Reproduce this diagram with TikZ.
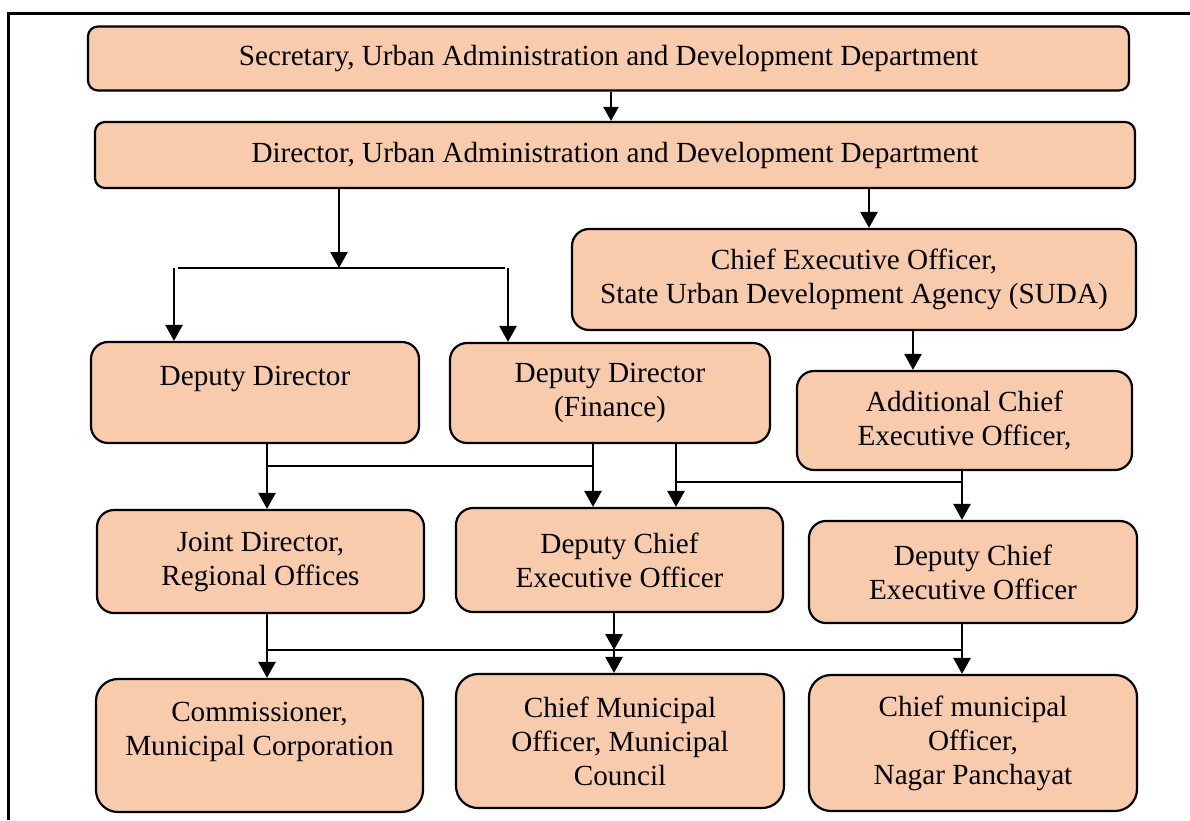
\documentclass[tikz,border=0pt]{standalone}
\usepackage{fontspec}
\setmainfont{Liberation Serif}
\usetikzlibrary{arrows.meta}

\definecolor{peach}{HTML}{F8CBAD}

\begin{document}
\begin{tikzpicture}[x=1pt,y=-1pt,
	box/.style = {draw, line width=2.2pt, fill=peach, rounded corners=17pt, align=center, inner sep=2pt, font=\fontsize{29.2}{34}\selectfont},
	arr/.style = {line width=2.6pt, -{Triangle[length=16pt,width=17pt]}},
	link/.style = {line width=2.4pt}]
	\useasboundingbox (0,0) rectangle (1190,820);
	\draw[line width=3pt] (8,820) -- (8,13) -- (1190,13);
	\begin{scope}[every node/.style={box}]
		\node[minimum width=1041pt, minimum height=64pt, rounded corners=10pt] (sec) at (608.5,58.5) {Secretary, Urban Administration and Development Department};
		\node[minimum width=1040pt, minimum height=66pt, rounded corners=10pt] (dir) at (615,155) {Director, Urban Administration and Development Department};
		\node[minimum width=564pt, minimum height=101pt] (ceo) at (854,279.5) {Chief Executive Officer,\\State Urban Development Agency (SUDA)};
		\node[minimum width=328pt, minimum height=101pt] (dd) at (255,392.5) {Deputy Director\\ \mbox{}};
		\node[minimum width=320pt, minimum height=100pt] (ddf) at (610,393) {Deputy Director\\(Finance)};
		\node[minimum width=335pt, minimum height=99pt] (aceo) at (964.5,420.5) {Additional Chief\\Executive Officer,};
		\node[minimum width=327pt, minimum height=103pt] (jd) at (260.5,561.5) {Joint Director,\\Regional Offices};
		\node[minimum width=327pt, minimum height=104pt] (dceo) at (619.5,560) {Deputy Chief\\Executive Officer};
		\node[minimum width=328pt, minimum height=102pt] (dceor) at (973,572) {Deputy Chief\\Executive Officer};
		\node[minimum width=327pt, minimum height=133pt, rounded corners=22pt] (com) at (259.5,745.5) {Commissioner,\\Municipal Corporation\\ \mbox{}};
		\node[minimum width=328pt, minimum height=134pt, rounded corners=22pt] (cmo) at (620,741) {Chief Municipal\\Officer, Municipal\\Council};
		\node[minimum width=328pt, minimum height=136pt, rounded corners=22pt] (cmon) at (973,743) {Chief municipal\\Officer,\\Nagar Panchayat};
	\end{scope}
	% columns and rows of the connectors
	\coordinate (xa) at (611,0);
	\coordinate (xb) at (339,0);
	\coordinate (xc) at (174,0);
	\coordinate (xd) at (508,0);
	\coordinate (xe) at (869,0);
	\coordinate (xf) at (913,0);
	\coordinate (xg) at (267,0);
	\coordinate (xh) at (593,0);
	\coordinate (xi) at (676,0);
	\coordinate (xj) at (962,0);
	\coordinate (xk) at (614,0);
	\coordinate (r1) at (0,268);
	\coordinate (r2) at (0,466);
	\coordinate (r3) at (0,482);
	\coordinate (r4) at (0,650);
	\draw[line width=2.2pt, -{Triangle[length=14pt,width=15pt]}] (xa |- sec.south) -- (xa |- dir.north);
	\draw[arr] (xb |- dir.south) -- (xb |- r1);
	\draw[link] ([xshift=4pt]xc |- r1) -- ([xshift=-3pt]xd |- r1);
	\draw[arr] (xc |- r1) -- (xc |- dd.north);
	\draw[arr] (xd |- r1) -- (xd |- ddf.north);
	\draw[arr] (xe |- dir.south) -- (xe |- ceo.north);
	\draw[arr] (xf |- ceo.south) -- (xf |- aceo.north);
	\draw[arr] (xg |- dd.south) -- (xg |- jd.north);
	\draw[link] (xg |- r2) -- (xh |- r2);
	\draw[arr] (xh |- ddf.south) -- (xh |- dceo.north);
	\draw[arr] (xi |- ddf.south) -- (xi |- dceo.north);
	\draw[link] (xi |- r3) -- (xj |- r3);
	\draw[arr] (xj |- aceo.south) -- (xj |- dceor.north);
	\draw[arr] (xg |- jd.south) -- (xg |- com.north);
	\draw[link] (xg |- r4) -- (xj |- r4);
	\draw[arr] (xk |- dceo.south) -- (xk |- r4);
	\draw[arr] (xk |- r4) -- (xk |- cmo.north);
	\draw[arr] (xj |- dceor.south) -- (xj |- cmon.north);
\end{tikzpicture}
\end{document}
